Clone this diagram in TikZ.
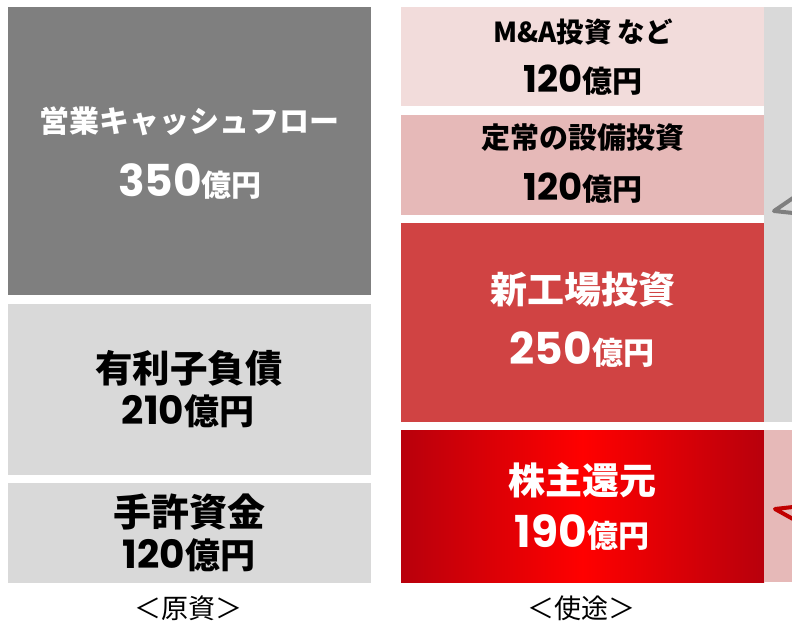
\documentclass[tikz,border=0pt]{standalone}
\usepackage{fontspec}
\setmainfont{Noto Sans CJK JP}
\newfontfamily\numf{Poppins}
\definecolor{dgray}{HTML}{7F7F7F}
\definecolor{lgray}{HTML}{D9D9D9}
\definecolor{pinkA}{HTML}{F2DCDB}
\definecolor{pinkB}{HTML}{E6B9B8}
\definecolor{redA}{HTML}{D04343}
\definecolor{gradE}{HTML}{B8000C}
\definecolor{gradC}{HTML}{FF0000}
\definecolor{chevR}{HTML}{C00000}
\newcommand\valtxt[3]{{\numf\fontsize{#1}{#1}\selectfont #3}{\fontsize{#2}{#2}\selectfont 億円}}
\newcommand\fs[1]{\fontsize{#1}{#1}\selectfont}
\begin{document}
\begin{tikzpicture}[x=1pt,y=-1pt]
\tikzset{
  box/.style={draw=none,inner sep=0pt,outer sep=0pt,anchor=north west},
  lbl/.style={inner sep=0pt,font=\bfseries,text=black},
  wlbl/.style={lbl,text=white},
  captxt/.style={inner sep=0pt,font=\fs{27}},
  chev/.style={line width=4pt,line join=round,line cap=round}
}
\useasboundingbox (0,0) rectangle (792,626);
% left column
\node[box,fill=dgray,minimum width=363pt,minimum height=288pt] (ocf) at (8,7) {};
\node[box,fill=lgray,minimum width=363pt,minimum height=171pt] (debt) at (8,304) {};
\node[box,fill=lgray,minimum width=363pt,minimum height=100pt] (cash) at (8,483) {};
% right column
\node[box,fill=pinkA,minimum width=363pt,minimum height=99pt] (ma) at (401,7) {};
\node[box,fill=pinkB,minimum width=363pt,minimum height=100pt] (capex) at (401,115) {};
\node[box,fill=redA,minimum width=363pt,minimum height=199pt] (plant) at (401,223) {};
\node[box,left color=gradE,right color=gradE,middle color=gradC,minimum width=363pt,minimum height=152pt] (ret) at (401,430) {};
% right edge panels
\node[box,fill=lgray,minimum width=30pt,minimum height=415pt] (pg) at (764,7) {};
\node[box,fill=pinkB,minimum width=30pt,minimum height=152pt] (pp) at (764,430) {};
\coordinate (g1) at (793,198);
\coordinate (g2) at (774,211);
\coordinate (g3) at (793,213);
\draw[chev,dgray] (g1) -- (g2) -- (g3);
\coordinate (r1) at (793,507);
\coordinate (r2) at (775,509);
\coordinate (r3) at (793,519);
\draw[chev,chevR] (r1) -- (r2) -- (r3);
% texts left
\node[wlbl,font=\bfseries\fs{30}] (ocfT) at (189,121) {営業キャッシュフロー};
\node[wlbl] (ocfV) at (190,181) {\valtxt{44}{30}{350}};
\node[lbl,font=\bfseries\fs{37.5}] (debtT) at (189,368) {有利子負債};
\node[lbl] (debtV) at (188,411) {\valtxt{39}{35}{210}};
\node[lbl,font=\bfseries\fs{38}] (cashT) at (189,512) {手許資金};
\node[lbl] (cashV) at (189,555) {\valtxt{39}{35}{120}};
% texts right
\node[lbl,font=\bfseries\fs{27.5}] (maT) at (583,32) {M\&A投資 など};
\node[lbl] (maV) at (583,80) {\valtxt{37}{30}{120}};
\node[lbl,font=\bfseries\fs{29}] (capexT) at (583,138) {定常の設備投資};
\node[lbl] (capexV) at (583,188) {\valtxt{37}{30}{120}};
\node[wlbl,font=\bfseries\fs{37}] (plantT) at (583,290) {新工場投資};
\node[wlbl] (plantV) at (582,350) {\valtxt{44}{31}{250}};
\node[wlbl,font=\bfseries\fs{37}] (retT) at (582,480) {株主還元};
\node[wlbl] (retV) at (582,533) {\valtxt{44}{31}{190}};
% captions
\node[captxt] (srcC) at (188,608) {＜原資＞};
\node[captxt] (useC) at (581,608) {＜使途＞};
\end{tikzpicture}
\end{document}
